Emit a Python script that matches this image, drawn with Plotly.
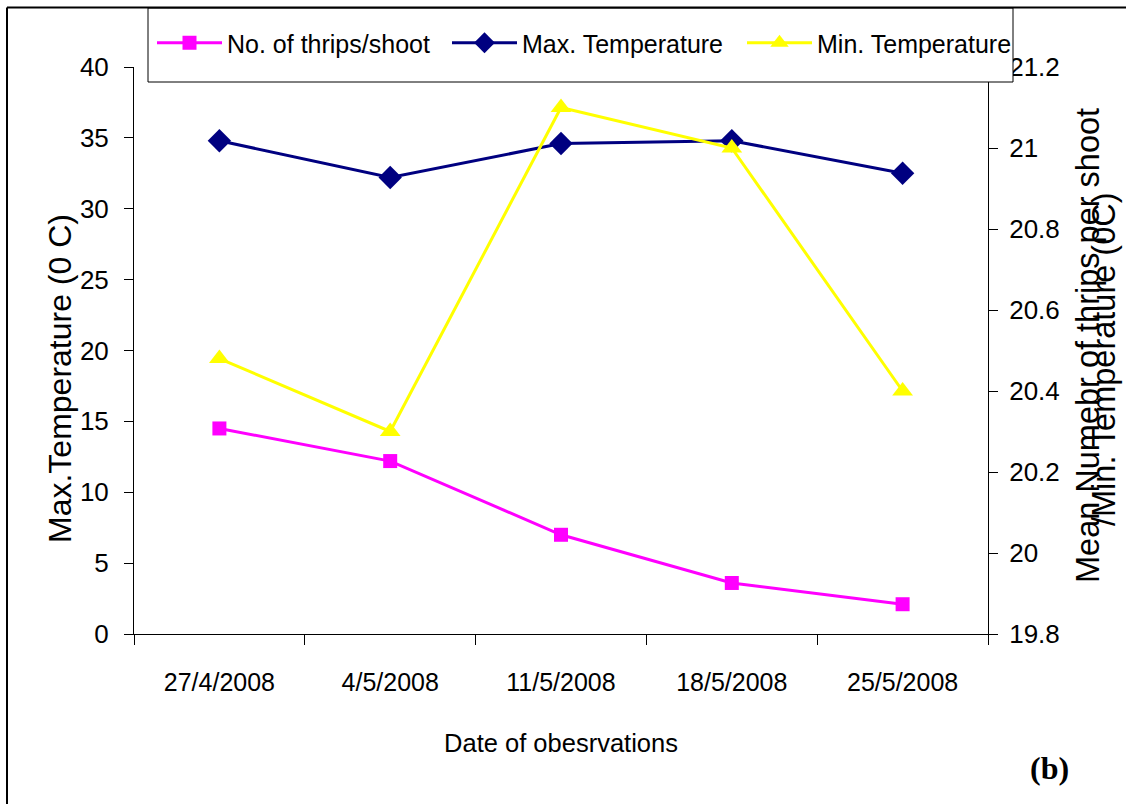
import plotly.graph_objects as go

dates = ["27/4/2008", "4/5/2008", "11/5/2008", "18/5/2008", "25/5/2008"]
thrips = [14.5, 12.2, 7.0, 3.6, 2.1]
max_temp = [34.8, 32.2, 34.6, 34.8, 32.5]
min_temp = [20.48, 20.30, 21.10, 21.00, 20.40]

ARIAL = "Liberation Sans, Arial, sans-serif"

fig = go.Figure()
fig.add_trace(go.Scatter(x=dates, y=thrips, name="No. of thrips/shoot", mode="lines+markers",
                         line=dict(color="#FF00FF", width=3),
                         marker=dict(symbol="square", size=14, color="#FF00FF")))
fig.add_trace(go.Scatter(x=dates, y=max_temp, name="Max. Temperature", mode="lines+markers",
                         line=dict(color="#000080", width=3),
                         marker=dict(symbol="diamond", size=18, color="#000080")))
fig.add_trace(go.Scatter(x=dates, y=min_temp, name="Min. Temperature", mode="lines+markers",
                         yaxis="y2",
                         line=dict(color="#FFFF00", width=3),
                         marker=dict(symbol="triangle-up", size=18, color="#FFFF00")))

L, R, T, B = 134, 138, 67, 170
W, H = 1126, 804
pw, ph = W - L - R, H - T - B
def px(x):
    return (x - L) / pw
def py(y):
    return (H - B - y) / ph

fig.update_layout(
    width=W, height=H,
    margin=dict(l=L, r=R, t=T, b=B, pad=0, autoexpand=False),
    paper_bgcolor="white", plot_bgcolor="white",
    showlegend=True,
    legend=dict(orientation="h", x=px(130), y=py(43), xanchor="left", yanchor="middle",
                bgcolor="rgba(0,0,0,0)", bordercolor="rgba(0,0,0,0)", borderwidth=22,
                font=dict(family=ARIAL, size=25, color="black"),
                itemwidth=65, entrywidth=215, entrywidthmode="pixels", traceorder="normal"),
    xaxis=dict(type="category", range=[-0.5, 4.5], showline=True, linecolor="black", linewidth=1,
               ticks="outside", ticklen=10, tickcolor="black", tickson="boundaries",
               showgrid=False, zeroline=False,
               tickfont=dict(family=ARIAL, size=25, color="black"),
               ticklabelstandoff=26,
               title=dict(text="Date of obesrvations", standoff=39,
                          font=dict(family=ARIAL, size=25.5, color="black"))),
    yaxis=dict(range=[0, 40], dtick=5, showline=True, linecolor="black", linewidth=1,
               ticks="outside", ticklen=9, tickcolor="black", showgrid=False, zeroline=False,
               tickfont=dict(family=ARIAL, size=26, color="black"), ticklabelstandoff=10),
    yaxis2=dict(range=[19.8, 21.2], dtick=0.2, overlaying="y", side="right",
                showline=True, linecolor="black", linewidth=1,
                ticks="outside", ticklen=9, tickcolor="black", showgrid=False, zeroline=False,
                tickfont=dict(family=ARIAL, size=26, color="black"), ticklabelstandoff=6),
    shapes=[
        dict(type="rect", xref="paper", yref="paper", x0=px(148), x1=px(1013), y0=py(82), y1=py(8),
             line=dict(color="black", width=1), fillcolor="white", layer="above"),
        dict(type="line", xref="paper", yref="paper", x0=px(7), x1=px(7), y0=py(7.5), y1=py(820),
             line=dict(color="black", width=2)),
        dict(type="line", xref="paper", yref="paper", x0=px(7), x1=px(1140), y0=py(7.5), y1=py(7.5),
             line=dict(color="black", width=2)),
    ],
    annotations=[
        dict(text="Max.Temperature (0 C)", xref="paper", yref="paper",
             x=px(60), y=py(379), xanchor="center", yanchor="middle", textangle=-90,
             showarrow=False, font=dict(family=ARIAL, size=32, color="black")),
        dict(text="Mean Numebr of thrips per shoot", xref="paper", yref="paper",
             x=px(1088), y=py(346), xanchor="center", yanchor="middle", textangle=-90,
             showarrow=False, font=dict(family=ARIAL, size=32.5, color="black")),
        dict(text="/Min. Temperature (0C)", xref="paper", yref="paper",
             x=px(1104), y=py(359), xanchor="center", yanchor="middle", textangle=-90,
             showarrow=False, font=dict(family=ARIAL, size=32.5, color="black")),
        dict(text="<b>(b)</b>", xref="paper", yref="paper",
             x=px(1049), y=py(768), xanchor="center", yanchor="middle",
             showarrow=False, font=dict(family="Liberation Serif, Times New Roman, serif", size=32, color="black")),
    ],
)

fig.write_html("out.html")
